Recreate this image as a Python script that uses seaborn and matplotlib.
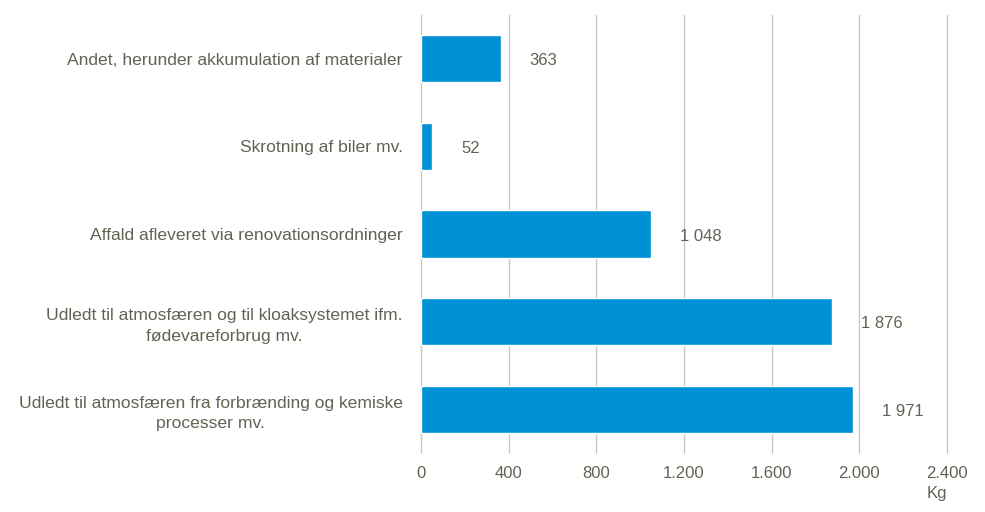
import matplotlib
matplotlib.use("Agg")
import matplotlib.pyplot as plt
import seaborn as sns
import pandas as pd
from matplotlib import font_manager

categories = [
    "Andet, herunder akkumulation af materialer",
    "Skrotning af biler mv.",
    "Affald afleveret via renovationsordninger",
    "Udledt til atmosfæren og til kloaksystemet ifm.\nfødevareforbrug mv.",
    "Udledt til atmosfæren fra forbrænding og kemiske\nprocesser mv.",
]
values = [363, 52, 1048, 1876, 1971]
value_labels = ["363", "52", "1 048", "1 876", "1 971"]
xticks = [0, 400, 800, 1200, 1600, 2000, 2400]
xtick_labels = ["0", "400", "800", "1.200", "1.600", "2.000", "2.400"]
unit = "Kg"

sns.set_theme(style="white")
names = {f.name for f in font_manager.fontManager.ttflist}
fam = ["Liberation Sans Narrow", "Liberation Sans", "DejaVu Sans"]
fam = [f for f in fam if f in names] or ["DejaVu Sans"]
plt.rcParams["font.family"] = fam

text_color = "#626253"
bar_color = "#0090d5"
grid_color = "#c8c8bc"

df = pd.DataFrame({"cat": categories, "val": values})

fig = plt.figure(figsize=(9.85, 5.12), dpi=100)
ax = fig.add_axes([0.4274, 0.115, 0.534, 0.856])
sns.barplot(data=df, x="val", y="cat", orient="h", color=bar_color,
            width=0.54, saturation=1, ax=ax)

ax.set_xlim(0, 2400)
ax.set_ylim(4.5, -0.5)
ax.set_xticks(xticks)
ax.set_xticklabels(xtick_labels)
ax.set_xlabel("")
ax.set_ylabel("")
for s in ax.spines.values():
    s.set_visible(False)
ax.set_axisbelow(True)
ax.xaxis.grid(True, color=grid_color, linewidth=1)
for gl in ax.get_xgridlines():
    gl.set_clip_on(False)
ax.yaxis.grid(False)
ax.tick_params(axis="x", length=0, pad=9, labelsize=12, labelcolor=text_color)
ax.tick_params(axis="y", length=0, pad=13, labelsize=12.6, labelcolor=text_color)
for lbl in ax.get_yticklabels():
    lbl.set_multialignment("center")
    lbl.set_linespacing(1.45)

for i, (v, t) in enumerate(zip(values, value_labels)):
    ax.annotate(t, xy=(v, i), xytext=(21, -1.5), textcoords="offset points",
                ha="left", va="center", fontsize=12, color=text_color)

ax.text(1.0, -0.075, unit, transform=ax.transAxes, ha="right", va="top",
        fontsize=12, color=text_color)

fig.savefig("out.png", dpi=100)
